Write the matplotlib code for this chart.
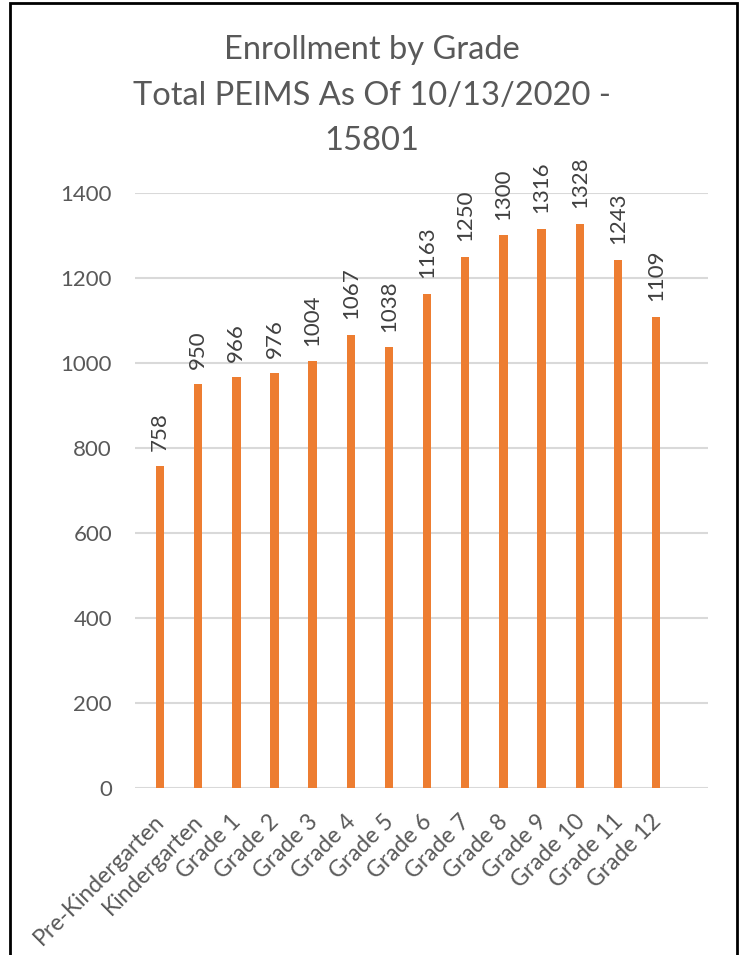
import matplotlib
matplotlib.use("Agg")
import matplotlib.pyplot as plt
from matplotlib.patches import Rectangle
from matplotlib.transforms import ScaledTranslation

# Enrollment counts per grade
grades = ["Pre-Kindergarten", "Kindergarten", "Grade 1", "Grade 2", "Grade 3",
          "Grade 4", "Grade 5", "Grade 6", "Grade 7", "Grade 8", "Grade 9",
          "Grade 10", "Grade 11", "Grade 12"]
enrollment = [758, 950, 966, 976, 1004, 1067, 1038, 1163, 1250, 1300, 1316,
              1328, 1243, 1109]
y_ticks = [0, 200, 400, 600, 800, 1000, 1200, 1400]
title_lines = ["Enrollment by Grade", "Total PEIMS As Of 10/13/2020 -", "15801"]

W, H = 741, 955
DPI = 100
plt.rcParams["font.family"] = ["Lato", "DejaVu Sans"]

BAR = "#ED7D31"
TXT = "#595959"
LBL = "#404040"
GRID = "#D9D9D9"

fig = plt.figure(figsize=(W / DPI, H / DPI), dpi=DPI)
fig.patch.set_facecolor("white")

# plot area in pixel terms
left_px, right_px, top_px, bottom_px = 135, 708, 193, 788
ax = fig.add_axes([left_px / W, 1 - bottom_px / H,
                   (right_px - left_px) / W, (bottom_px - top_px) / H])

x = list(range(len(grades)))
ax.bar(x, enrollment, width=0.22, color=BAR, zorder=3)

ax.set_ylim(0, 1400)
ax.set_xlim(-0.655, 14.36)
ax.set_yticks(y_ticks)
ax.set_yticklabels([str(t) for t in y_ticks], fontsize=16, color=TXT)
ax.tick_params(axis="y", length=0, pad=16.5)
ax.yaxis.grid(True, color=GRID, linewidth=1.5, zorder=0)
for s in ax.spines.values():
    s.set_visible(False)

ax.set_xticks(x)
ax.set_xticklabels(grades, rotation=45, ha="right", va="top",
                   rotation_mode="anchor", fontsize=16.5, color=TXT)
ax.tick_params(axis="x", length=0, pad=16.5)
shift = ScaledTranslation(-6 / DPI, 0, fig.dpi_scale_trans)
for lab in ax.get_xticklabels():
    lab.set_transform(lab.get_transform() + shift)

for xi, v in zip(x, enrollment):
    ax.annotate(str(v), xy=(xi, v), xytext=(0, 11), textcoords="offset points",
                rotation=90, ha="center", va="bottom", fontsize=16, color=LBL)

# three-line title
baselines = [59, 105, 150]
for line, by in zip(title_lines, baselines):
    fig.text(372 / W, 1 - by / H, line, ha="center", va="baseline",
             fontsize=23.5, color=TXT)

# chart border
fig.patches.append(Rectangle((10 / W, -0.02), 727 / W, 1.02 - 3 / H,
                             transform=fig.transFigure, fill=False,
                             edgecolor="black", linewidth=2, zorder=10))

fig.savefig("out.png", dpi=DPI)
